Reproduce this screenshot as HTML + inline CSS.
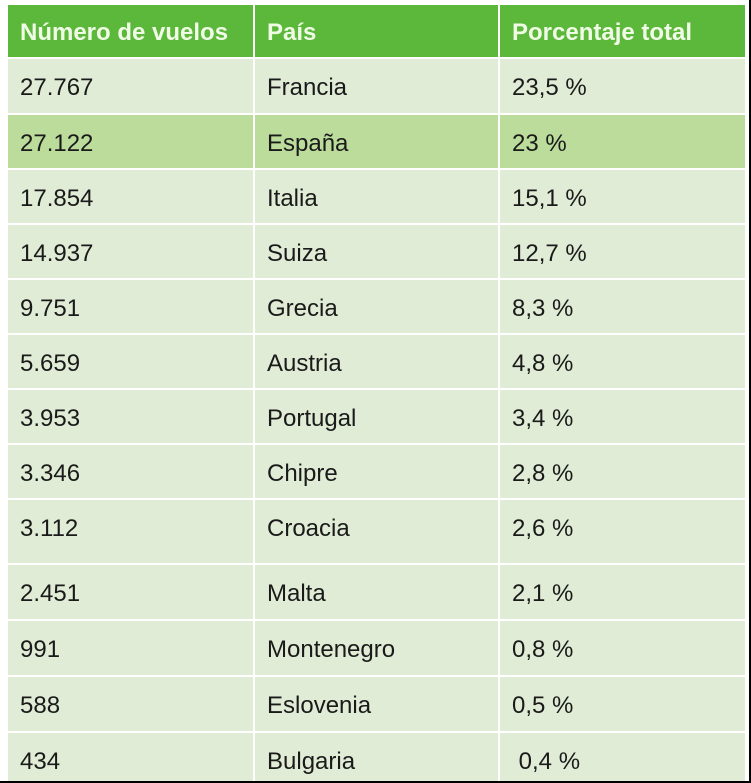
<!DOCTYPE html>
<html><head><meta charset="utf-8">
<style>
body{margin:0;width:751px;height:783px;background:#fff;position:relative;overflow:hidden;font-family:"Liberation Sans",sans-serif;}
.frame{position:absolute;left:0;top:0;width:749px;height:781px;border-right:2px solid #000;border-bottom:2px solid #000;}
.cell{position:absolute;box-sizing:border-box;font-size:24px;color:#1a1a1a;white-space:pre;}
.h{background:#5cb83a;color:#f0fbe6;font-weight:bold;}
.r{background:#e0ecd5;}
.hl{background:#bcdc9c;}
</style></head><body>
<div class="frame"></div>
<div id="tbl"></div>
<script>
const headers=["Número de vuelos","País","Porcentaje total"];
const flights=["27.767","27.122","17.854","14.937","9.751","5.659","3.953","3.346","3.112","2.451","991","588","434"];
const countries=["Francia","España","Italia","Suiza","Grecia","Austria","Portugal","Chipre","Croacia","Malta","Montenegro","Eslovenia","Bulgaria"];
const pcts=["23,5 %","23 %","15,1 %","12,7 %","8,3 %","4,8 %","3,4 %","2,8 %","2,6 %","2,1 %","0,8 %","0,5 %"," 0,4 %"];
const bounds=[5,57,113,168,223,278,333,388,443,498,563,619,675,731,781];
const colX=[8,255,500],colW=[245,243,245],txtX=[12,12,12];
const tbl=document.getElementById('tbl');
function mk(txt,row,col,cls){
  const top=row===0?bounds[0]:bounds[row]+2;
  const bottom=bounds[row+1];
  const d=document.createElement('div');
  d.className='cell '+cls;
  d.style.left=colX[col]+'px';d.style.top=top+'px';
  d.style.width=colW[col]+'px';d.style.height=(bottom-top)+'px';
  d.style.paddingLeft=txtX[col]+'px';
  d.style.paddingTop=(row===0?14:15)+'px';
  d.textContent=txt;
  tbl.appendChild(d);
  return d;
}
headers.forEach((h,c)=>{
  const d=mk(h,0,c,'h');
  
  
});
countries.forEach((ct,i)=>{
  const cls=i===1?'hl':'r';
  const a=mk(flights[i],i+1,0,cls);
  
  
  const b=mk(ct,i+1,1,cls);
  
  
  const c=mk(pcts[i],i+1,2,cls);
  
  
});
</script>
</body></html>
